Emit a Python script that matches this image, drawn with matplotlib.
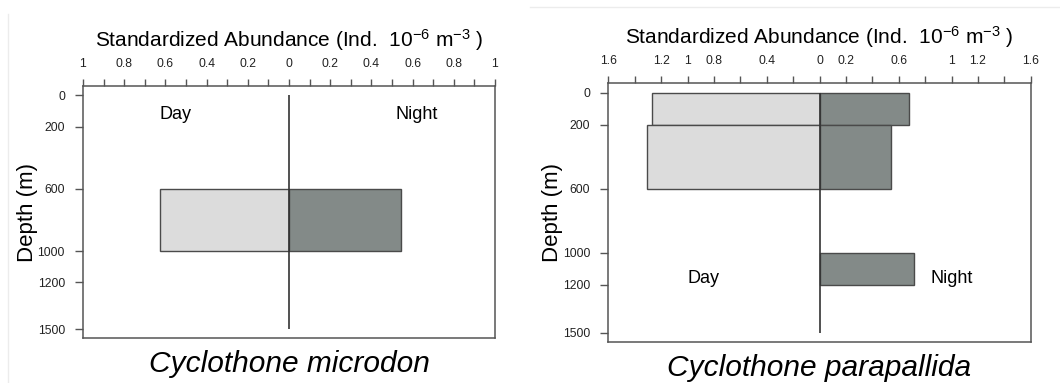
import matplotlib
matplotlib.use("Agg")
import matplotlib.pyplot as plt
from matplotlib.lines import Line2D

plt.rcParams['font.family'] = ['Liberation Sans', 'DejaVu Sans']

# depth bins (m) and standardized abundance for each species
micro_day_top = [600]
micro_day_bottom = [1000]
micro_day_vals = [0.625]
micro_night_top = [600]
micro_night_bottom = [1000]
micro_night_vals = [0.545]

para_day_top = [0, 200]
para_day_bottom = [200, 600]
para_day_vals = [1.27, 1.31]
para_night_top = [0, 200, 1000]
para_night_bottom = [200, 600, 1200]
para_night_vals = [0.675, 0.545, 0.715]

depth_ticks = [0, 200, 600, 1000, 1200, 1500]

micro_xticks = [-1.0, -0.9, -0.8, -0.7, -0.6, -0.5, -0.4, -0.3, -0.2, -0.1, 0.0,
                0.1, 0.2, 0.3, 0.4, 0.5, 0.6, 0.7, 0.8, 0.9, 1.0]
micro_xlabels = ["1", "", "0.8", "", "0.6", "", "0.4", "", "0.2", "", "0",
                 "", "0.2", "", "0.4", "", "0.6", "", "0.8", "", "1"]
para_xticks = [-1.6, -1.4, -1.2, -1.0, -0.8, -0.6, -0.4, -0.2, 0.0,
               0.2, 0.4, 0.6, 0.8, 1.0, 1.2, 1.4, 1.6]
para_xlabels = ["1.6", "", "1.2", "1", "0.8", "", "0.4", "", "0",
                "0.2", "", "0.6", "", "1", "1.2", "", "1.6"]

DAY = "#dcdcdc"
NIGHT = "#838a88"
EDGE = "#4a4a4a"
AX = "#555555"

W, H = 1060, 383
fig = plt.figure(figsize=(W / 100, H / 100), dpi=100)


def px_axes(x0, y0, x1, y1):
    return fig.add_axes([x0 / W, 1 - y1 / H, (x1 - x0) / W, (y1 - y0) / H])


def panel(ax, xmax, xticks, xlabels, d_top, d_bot, d_val, n_top, n_bot, n_val,
          title, day_pos, night_pos):
    ax.barh(d_top, [-v for v in d_val], height=[b - t for t, b in zip(d_top, d_bot)],
            left=0, align='edge', color=DAY, edgecolor=EDGE, linewidth=1.0, zorder=2)
    ax.barh(n_top, n_val, height=[b - t for t, b in zip(n_top, n_bot)],
            left=0, align='edge', color=NIGHT, edgecolor=EDGE, linewidth=1.0, zorder=2)
    ax.vlines(0, 0, 1500, color="#333333", linewidth=1.2, zorder=3)

    ax.set_xlim(-xmax, xmax)
    ax.set_ylim(1560, -60)
    ax.xaxis.tick_top()
    ax.set_xticks(xticks)
    ax.set_xticklabels(xlabels)
    ax.set_yticks(depth_ticks)
    ax.set_yticklabels([str(d) for d in depth_ticks])
    ax.tick_params(axis='x', direction='out', length=5, width=1, color=AX,
                   labelsize=8.8, pad=6.5, labelcolor="#222222")
    ax.tick_params(axis='y', direction='out', length=6, width=1, color=AX,
                   labelsize=8.8, pad=7, labelcolor="#222222")
    for s in ax.spines.values():
        s.set_color(AX)
        s.set_linewidth(1.1)

    ax.xaxis.set_label_position('top')
    ax.set_xlabel("Standardized Abundance (Ind.  $\\mathregular{10^{-6}}$ $\\mathregular{m^{-3}}$ )",
                  fontsize=15, labelpad=8)
    ax.set_ylabel("Depth (m)", fontsize=16, labelpad=0)
    ax.text(day_pos[0], day_pos[1], "Day", fontsize=13, ha='center', va='center')
    ax.text(night_pos[0], night_pos[1], "Night", fontsize=13, ha='center', va='center')
    ax.text(0.5, -0.1, title, transform=ax.transAxes, fontsize=21.5, style='italic',
            ha='center', va='center')


ax1 = px_axes(83, 86, 495, 338.4)
panel(ax1, 1.0, micro_xticks, micro_xlabels,
      micro_day_top, micro_day_bottom, micro_day_vals,
      micro_night_top, micro_night_bottom, micro_night_vals,
      "Cyclothone microdon", (-0.55, 126), (0.62, 126))

ax2 = px_axes(608.3, 83.3, 1030.7, 342.3)
panel(ax2, 1.6, para_xticks, para_xlabels,
      para_day_top, para_day_bottom, para_day_vals,
      para_night_top, para_night_bottom, para_night_vals,
      "Cyclothone parapallida", (-0.88, 1160), (1.0, 1160))

# faint frame edges around the two panels
fig.add_artist(Line2D([8 / W, 8 / W], [0, 1 - 14 / H], color="#ececec", linewidth=1))
fig.add_artist(Line2D([530 / W, 1], [1 - 7 / H, 1 - 7 / H], color="#ececec", linewidth=1))

fig.savefig("out.png", dpi=100)
